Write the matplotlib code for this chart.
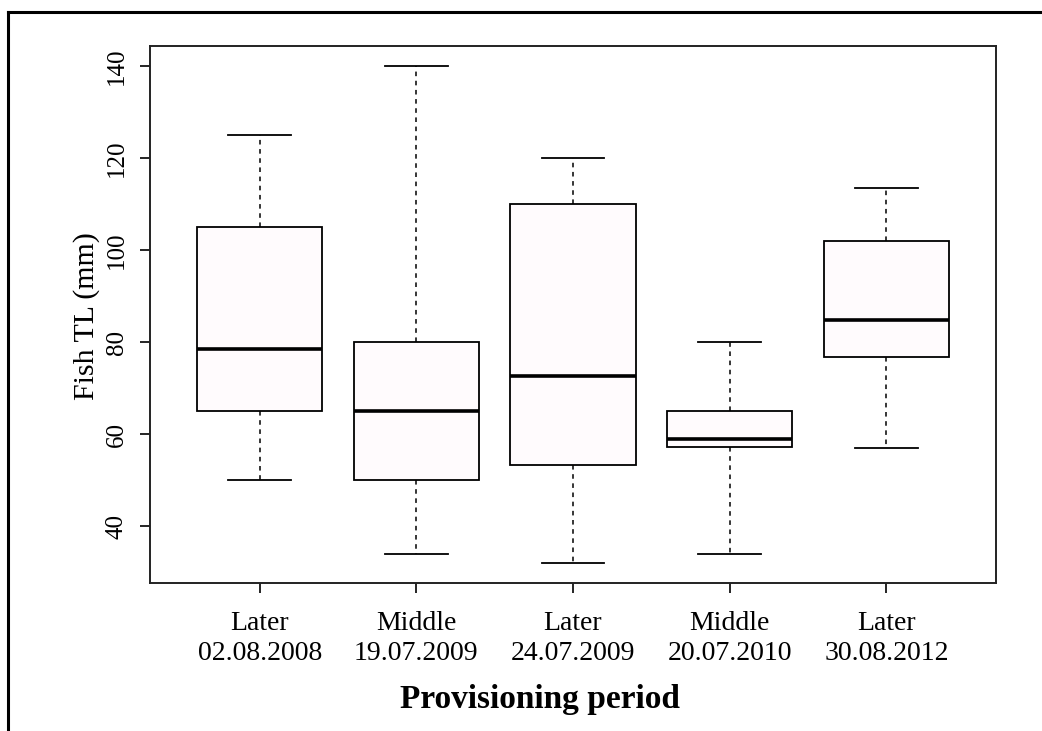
import matplotlib.pyplot as plt
from matplotlib.lines import Line2D

plt.rcParams['font.family'] = ['Liberation Serif', 'DejaVu Serif']

# fish total length summaries per provisioning visit
periods = ['Later', 'Middle', 'Later', 'Middle', 'Later']
dates = ['02.08.2008', '19.07.2009', '24.07.2009', '20.07.2010', '30.08.2012']
whisker_low = [50, 34, 32, 34, 57]
q1 = [65, 50, 53.4, 57.3, 76.7]
median = [78.5, 65, 72.7, 59, 84.8]
q3 = [105, 80, 110, 65, 102]
whisker_high = [125, 140, 120, 80, 113.4]

yticks = [40, 60, 80, 100, 120, 140]

stats = []
for i in range(len(dates)):
    stats.append({
        'whislo': whisker_low[i],
        'q1': q1[i],
        'med': median[i],
        'q3': q3[i],
        'whishi': whisker_high[i],
        'fliers': [],
    })

fig = plt.figure(figsize=(10.42, 7.31), dpi=100)
ax = fig.add_axes([150 / 1042, 1 - 583 / 731, 846 / 1042, 537 / 731])

ax.bxp(stats, positions=range(1, 6), widths=0.8, patch_artist=True,
       showfliers=False,
       boxprops=dict(facecolor='#fffbfd', edgecolor='black', linewidth=1.3),
       medianprops=dict(color='black', linewidth=2.6, solid_capstyle='butt'),
       whiskerprops=dict(color='black', linewidth=1.1, linestyle=(0, (3, 3))),
       capprops=dict(color='black', linewidth=1.3),
       capwidths=0.4)

# R-style 4% padding around the data range
lo, hi = min(whisker_low), max(whisker_high)
pad = (hi - lo) * 0.04
ax.set_ylim(lo - pad, hi + pad)
ax.set_xlim(0.3, 5.7)

ax.set_yticks(yticks)
ax.set_yticklabels([str(v) for v in yticks], rotation=90, va='center', fontsize=18)
ax.set_xticks(range(1, 6))
ax.set_xticklabels([p + '\n' + d for p, d in zip(periods, dates)],
                   fontsize=20, linespacing=1.3)
ax.tick_params(axis='both', direction='out', length=7, width=1.2, color='black')
ax.tick_params(axis='y', pad=9)
ax.tick_params(axis='x', pad=13)

for s in ax.spines.values():
    s.set_linewidth(1.4)
    s.set_color('#222222')

fig.text(87 / 1042, 1 - 316 / 731, 'Fish TL (mm)', rotation=90,
         ha='center', va='center', fontsize=21.5)
fig.text(540 / 1042, 1 - 708 / 731, 'Provisioning period', ha='center',
         va='baseline', fontsize=24, fontweight='bold')

# frame around the figure (only top and left edges show)
fig.add_artist(Line2D([8 / 1042, 8 / 1042], [0, 1 - 12 / 731],
                      transform=fig.transFigure, color='black', linewidth=2.2))
fig.add_artist(Line2D([8 / 1042, 1], [1 - 12 / 731, 1 - 12 / 731],
                      transform=fig.transFigure, color='black', linewidth=2.2))

fig.savefig('out.png', dpi=100)
